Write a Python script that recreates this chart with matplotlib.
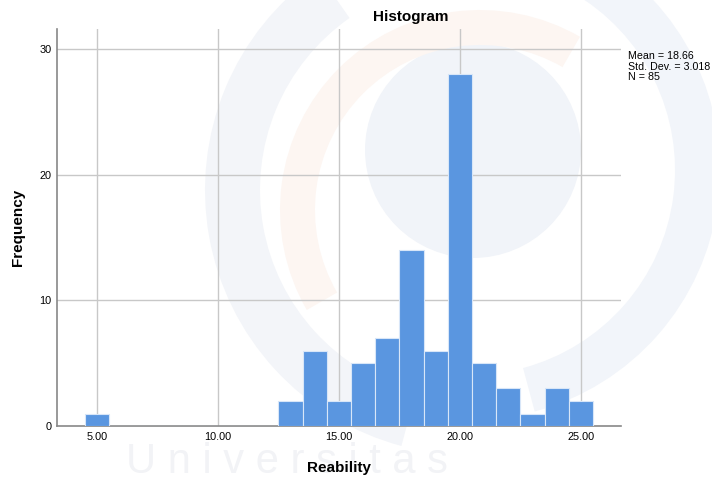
import numpy as np
import matplotlib.pyplot as plt
from matplotlib.patches import Circle, Wedge

plt.rcParams['font.family'] = ['Liberation Sans', 'DejaVu Sans']

# histogram bins (width 1.0) and counts
bin_edges = [4.5, 5.5, 6.5, 7.5, 8.5, 9.5, 10.5, 11.5, 12.5, 13.5, 14.5,
             15.5, 16.5, 17.5, 18.5, 19.5, 20.5, 21.5, 22.5, 23.5, 24.5, 25.5]
counts = [1, 0, 0, 0, 0, 0, 0, 0, 2, 6, 2, 5, 7, 14, 6, 28, 5, 3, 1, 3, 2]

x_ticks = [5, 10, 15, 20, 25]
x_labels = ["5.00", "10.00", "15.00", "20.00", "25.00"]
y_ticks = [0, 10, 20, 30]

mean_val = 18.66
std_val = 3.018
n_val = 85

fig = plt.figure(figsize=(7.12, 4.82), dpi=100)

# faint logo in the background
bg = fig.add_axes([0, 0, 1, 1], zorder=0)
bg.set_xlim(0, 712)
bg.set_ylim(482, 0)
bg.axis("off")
bg.add_patch(Circle((473, 150), 108, color="#f1f4f9", lw=0))
bg.add_patch(Wedge((470, 190), 265, 105, 235, width=55, color="#f3f5f9", lw=0))
bg.add_patch(Wedge((480, 210), 200, 150, 300, width=35, color="#fdf6f2", lw=0))
bg.add_patch(Wedge((470, 170), 250, -60, 75, width=45, color="#f2f5fa", lw=0))
bg.text(287, 462, "U n i v e r s i t a s", fontsize=30, color="#f2f3f6",
        ha="center", va="center")

ax = fig.add_axes([0.080, 0.116, 0.792, 0.824], zorder=1)
ax.patch.set_alpha(0)

widths = np.diff(bin_edges)
ax.bar(bin_edges[:-1], counts, width=widths, align="edge",
       color="#5a96e0", edgecolor="#d8e6f8", linewidth=0.8, zorder=3)

ax.set_xlim(3.35, 26.65)
ax.set_ylim(0, 31.6)
ax.set_xticks(x_ticks)
ax.set_xticklabels(x_labels)
ax.set_yticks(y_ticks)
ax.tick_params(length=0, labelsize=7.8, pad=4)

for x in x_ticks:
    ax.axvline(x, color="#c8c8c8", lw=1.0, zorder=1)
for y in y_ticks[1:]:
    ax.axhline(y, color="#c8c8c8", lw=1.0, zorder=1)

for side in ["top", "right"]:
    ax.spines[side].set_visible(False)
for side in ["left", "bottom"]:
    ax.spines[side].set_color("#888888")
    ax.spines[side].set_linewidth(1.2)

ax.set_xlabel("Reability", fontsize=11, fontweight="bold")
ax.set_ylabel("Frequency", fontsize=11, fontweight="bold")
ax.xaxis.set_label_coords(0.5, -0.087)
ax.yaxis.set_label_coords(-0.056, 0.5)

fig.text(411 / 712, 1 - 17 / 482, "Histogram", fontsize=11, fontweight="bold",
         ha="center", va="center")
fig.text(628 / 712, 1 - 51 / 482,
         f"Mean = {mean_val:.2f}\nStd. Dev. = {std_val:.3f}\nN = {n_val}",
         fontsize=7.7, ha="left", va="top", linespacing=1.08)

fig.savefig("out.png", dpi=100)
